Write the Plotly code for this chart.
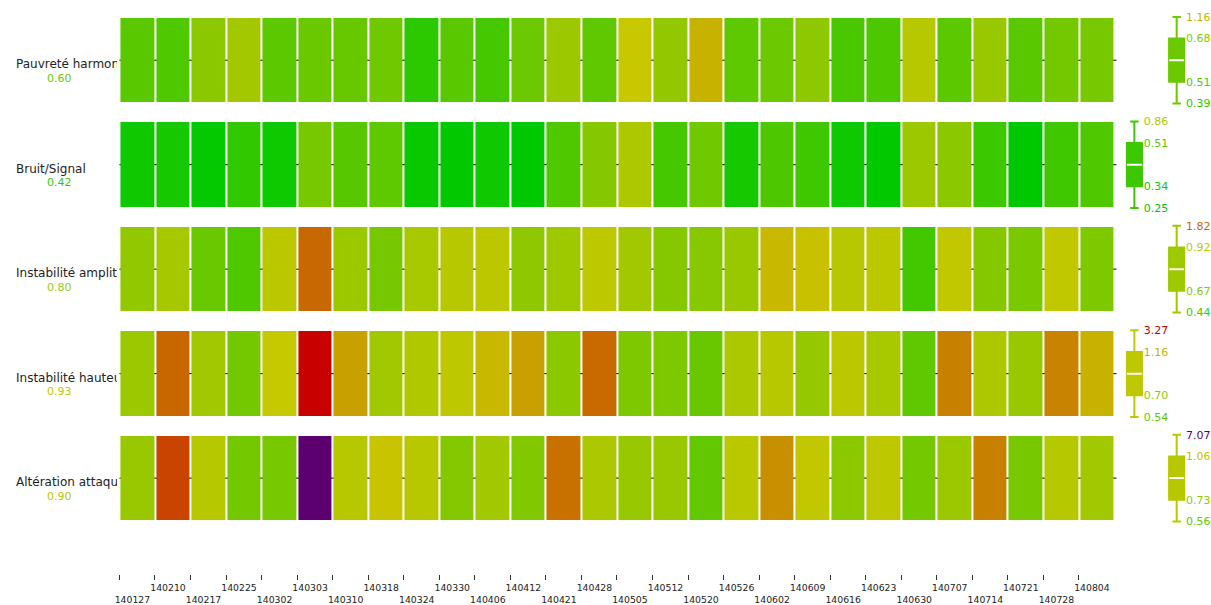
import plotly.graph_objects as go

W, H = 1211, 605

DATES = ["140127", "140210", "140217", "140225", "140302", "140303", "140310",
         "140318", "140324", "140330", "140406", "140412", "140421", "140428",
         "140505", "140512", "140520", "140526", "140602", "140609", "140616",
         "140623", "140630", "140707", "140714", "140721", "140728", "140804"]

METRICS = ["Pauvreté harmonique", "Bruit/Signal", "Instabilité amplitude",
           "Instabilité hauteur", "Altération attaque"]

PAUVRETE = [0.51, 0.48, 0.70, 0.82, 0.52, 0.59, 0.58, 0.61, 0.39, 0.51, 0.45, 0.60, 0.79, 0.54,
            1.00, 0.74, 1.16, 0.53, 0.60, 0.71, 0.46, 0.47, 0.89, 0.52, 0.78, 0.51, 0.62, 0.63]
BRUIT = [0.34, 0.35, 0.27, 0.40, 0.33, 0.63, 0.50, 0.53, 0.30, 0.26, 0.34, 0.25, 0.48, 0.67,
         0.86, 0.45, 0.61, 0.35, 0.47, 0.43, 0.33, 0.26, 0.79, 0.70, 0.42, 0.25, 0.43, 0.48]
AMPLITUDE = [0.73, 0.83, 0.59, 0.48, 0.92, 1.82, 0.79, 0.63, 0.84, 0.90, 0.92, 0.72, 0.80, 0.93,
             0.81, 0.67, 0.68, 0.77, 1.11, 1.05, 0.90, 0.92, 0.44, 0.96, 0.67, 0.64, 0.95, 0.65]
HAUTEUR = [0.79, 1.85, 0.81, 0.62, 0.99, 3.27, 1.30, 0.81, 0.87, 0.93, 1.11, 1.29, 0.70, 1.80,
           0.65, 0.65, 0.58, 0.85, 0.90, 0.75, 0.92, 0.84, 0.54, 1.60, 0.86, 0.78, 1.57, 1.16]
ATTAQUE = [0.78, 2.30, 0.89, 0.62, 0.63, 7.07, 0.89, 1.02, 0.90, 0.67, 0.81, 0.66, 1.75, 0.85,
           0.76, 0.78, 0.56, 0.91, 1.45, 0.96, 0.70, 0.93, 0.62, 0.79, 1.60, 0.63, 0.89, 0.81]

# box statistics per metric: [min, q1, median, q3, max]
STATS_PAUVRETE = [0.39, 0.51, 0.60, 0.68, 1.16]
STATS_BRUIT = [0.25, 0.34, 0.42, 0.51, 0.86]
STATS_AMPLITUDE = [0.44, 0.67, 0.80, 0.92, 1.82]
STATS_HAUTEUR = [0.54, 0.70, 0.93, 1.16, 3.27]
STATS_ATTAQUE = [0.56, 0.73, 0.90, 1.06, 7.07]

# schematic (quantile) positions of min, q1, median, q3, max inside each box
RANKS = [0.0, 0.25, 0.5, 0.75, 1.0]

ROWS = [PAUVRETE, BRUIT, AMPLITUDE, HAUTEUR, ATTAQUE]
STATS = [STATS_PAUVRETE, STATS_BRUIT, STATS_AMPLITUDE, STATS_HAUTEUR, STATS_ATTAQUE]

# colour ramp (value -> rgb)
STOPS = [(0.25, (0, 200, 0)), (0.34, (16, 200, 0)), (0.42, (60, 200, 0)),
         (0.51, (90, 200, 0)), (0.60, (108, 200, 0)), (0.68, (136, 200, 0)),
         (0.80, (158, 200, 0)), (0.90, (184, 200, 0)), (1.00, (200, 200, 0)),
         (1.16, (200, 178, 0)), (1.30, (200, 160, 0)), (1.60, (200, 128, 0)),
         (1.82, (200, 104, 0)), (2.30, (200, 68, 0)), (3.27, (200, 0, 0)),
         (7.07, (92, 0, 112))]
VMIN, VMAX = STOPS[0][0], STOPS[-1][0]


def color_at(v):
    if v <= STOPS[0][0]:
        c = STOPS[0][1]
        return "rgb(%d,%d,%d)" % c
    for (v0, c0), (v1, c1) in zip(STOPS, STOPS[1:]):
        if v <= v1:
            t = (v - v0) / (v1 - v0)
            c = tuple(round(a + (b - a) * t) for a, b in zip(c0, c1))
            return "rgb(%d,%d,%d)" % c
    return "rgb(%d,%d,%d)" % STOPS[-1][1]


COLORSCALE = [[(v - VMIN) / (VMAX - VMIN), "rgb(%d,%d,%d)" % c] for v, c in STOPS]
COLORSCALE[-1][0] = 1.0

FONT = "DejaVu Sans"

fig = go.Figure()

fig.add_trace(go.Heatmap(
    z=ROWS, x=list(range(len(DATES))), y=list(range(len(METRICS))),
    colorscale=COLORSCALE, zmin=VMIN, zmax=VMAX, xgap=2, ygap=20,
    showscale=False, hoverinfo="skip",
))

layout_axes = {}
shapes = []
annotations = []

for i, (name, stats) in enumerate(zip(METRICS, STATS)):
    n = i + 2
    cx = 1177.5 if i % 2 == 0 else 1135.0
    cy = 60.5 + 105 * i
    col = color_at(stats[2])
    fig.add_trace(go.Box(
        x=[0], q1=[RANKS[1]], median=[RANKS[2]], q3=[RANKS[3]],
        lowerfence=[RANKS[0]], upperfence=[RANKS[4]],
        width=1, whiskerwidth=0.5, fillcolor=col,
        line=dict(color=col, width=2), xaxis="x%d" % n, yaxis="y%d" % n,
        hoverinfo="skip", showlegend=False,
    ))
    layout_axes["xaxis%d" % n] = dict(
        domain=[(cx - 8.5) / W, (cx + 8.5) / W], range=[-0.5, 0.5],
        visible=False, anchor="y%d" % n, fixedrange=True)
    tick_idx = [0, 1, 3, 4]
    layout_axes["yaxis%d" % n] = dict(
        domain=[(H - (cy + 52.5)) / H, (H - (cy - 52.5)) / H],
        range=[-0.1034, 1.1034], anchor="x%d" % n, side="right",
        tickvals=[RANKS[k] for k in tick_idx],
        ticktext=['<span style="color:%s">%.2f</span>' % (color_at(stats[k]), stats[k])
                  for k in tick_idx],
        ticks="", showgrid=False, zeroline=False, showline=False,
        tickfont=dict(family=FONT, size=11), fixedrange=True)
    shapes.append(dict(type="line", xref="x%d domain" % n, x0=0.06, x1=0.94,
                       yref="y%d" % n, y0=RANKS[2], y1=RANKS[2],
                       line=dict(color="white", width=2), layer="above"))
    # dark centre line visible in the gaps between cells
    shapes.append(dict(type="line", xref="paper", x0=115 / W, x1=1117 / W,
                       yref="y", y0=i, y1=i, line=dict(color="black", width=1),
                       layer="below"))
    annotations.append(dict(
        xref="paper", x=9 / W, xanchor="left", yref="y", y=i, yshift=-4,
        text=name, width=101, align="left", showarrow=False,
        font=dict(family=FONT, size=12, color="#222222")))
    annotations.append(dict(
        xref="paper", x=55 / W, xanchor="center", yref="y", y=i, yshift=-18,
        text="%.2f" % stats[2], showarrow=False,
        font=dict(family=FONT, size=11, color=color_at(stats[2]))))

ticktext = [d if k % 2 else "<br>" + d for k, d in enumerate(DATES)]

fig.update_layout(
    width=W, height=H, margin=dict(l=0, r=0, t=0, b=0),
    paper_bgcolor="white", plot_bgcolor="white", showlegend=False,
    xaxis=dict(domain=[115 / W, 1115 / W], range=[-0.5, len(DATES) - 0.5],
               anchor="free", position=1 - 577 / H,
               tickvals=[k - 0.5 for k in range(len(DATES))], ticktext=ticktext,
               ticks="outside", ticklen=5, tickwidth=1, tickcolor="#333333",
               ticklabelshift=13, tickangle=0,
               showgrid=False, zeroline=False, showline=False,
               tickfont=dict(family=FONT, size=9.3, color="#222222"), fixedrange=True),
    yaxis=dict(domain=[(H - 533) / H, (H - 8) / H], range=[len(METRICS) - 0.5, -0.5],
               visible=False, fixedrange=True),
    shapes=shapes, annotations=annotations,
    **layout_axes,
)

fig.write_html("out.html", config={"displayModeBar": False},
               post_script="document.body.style.margin='0';")
